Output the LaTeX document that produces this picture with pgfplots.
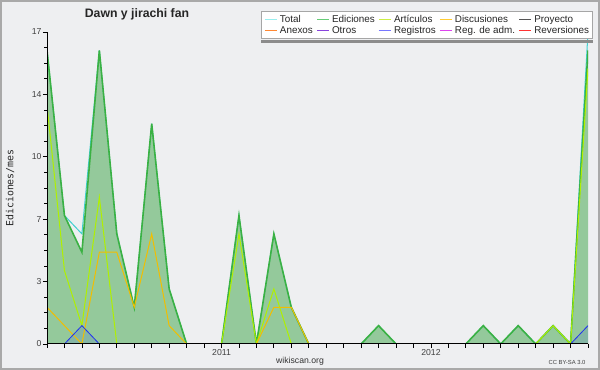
\documentclass[border=0pt]{standalone}
\usepackage{fontspec}
\setmainfont{Liberation Sans}
\newfontfamily\monof{DejaVu Sans Mono}
\usepackage{pgfplots}
\usepackage{pgfplotstable}
\pgfplotsset{compat=1.18}

\definecolor{bgc}{HTML}{EEEFF1}
\definecolor{framec}{HTML}{A9A9A9}
\definecolor{gridc}{HTML}{CDCDD0}
\definecolor{fillg}{HTML}{94C99B}
\definecolor{lineg}{HTML}{3BB143}
\definecolor{linec}{HTML}{40D0D0}
\definecolor{linea}{HTML}{B0F000}
\definecolor{lined}{HTML}{F2BE00}
\definecolor{lineb}{HTML}{2030F0}
\definecolor{lT}{HTML}{99EEEE}
\definecolor{lE}{HTML}{66CC77}
\definecolor{lA}{HTML}{CCEE44}
\definecolor{lD}{HTML}{FFCC33}
\definecolor{lP}{HTML}{555555}
\definecolor{lAn}{HTML}{FF8833}
\definecolor{lO}{HTML}{8844DD}
\definecolor{lR}{HTML}{7777FF}
\definecolor{lRA}{HTML}{DD44EE}
\definecolor{lRv}{HTML}{FF3333}

\pgfplotsset{
  layers/mylayers/.define layer set={
    axis background,axis grid,main,axis ticks,axis lines,axis tick labels,axis descriptions,axis foreground
  }{
    grid style={/pgfplots/on layer=axis grid},
    tick style={/pgfplots/on layer=axis ticks},
    axis line style={/pgfplots/on layer=axis lines},
    label style={/pgfplots/on layer=axis descriptions},
    legend style={/pgfplots/on layer=axis descriptions},
    title style={/pgfplots/on layer=axis descriptions},
    colorbar style={/pgfplots/on layer=axis descriptions},
    ticklabel style={/pgfplots/on layer=axis tick labels},
    axis background@ style={/pgfplots/on layer=axis background},
    3d box foreground style={/pgfplots/on layer=axis foreground},
  },
}

\pgfplotstableread{
i T E A D B
0 16 16 13 2 0
1 7 7 4 1 0
2 6 5 1 0 1
3 16 16 8 5 0
4 6 6 0 5 0
5 2 2 0 2 0
6 12 12 0 6 0
7 3 3 0 1 0
8 0 0 0 0 0
9 0 0 0 0 0
10 0 0 0 0 0
11 7 7 6 0 0
12 0 0 0 0 0
13 6 6 3 2 0
14 2 2 0 2 0
15 0 0 0 0 0
16 0 0 0 0 0
17 0 0 0 0 0
18 0 0 0 0 0
19 1 1 0 0 0
20 0 0 0 0 0
21 0 0 0 0 0
22 0 0 0 0 0
23 0 0 0 0 0
24 0 0 0 0 0
25 1 1 0 0 0
26 0 0 0 0 0
27 1 1 0 0 0
28 0 0 0 0 0
29 1 1 1 0 0
30 0 0 0 0 0
31 17 16 15 0 1
}\data

\begin{document}
\begin{tikzpicture}
\begin{scope}[x=0.75pt,y=0.75pt]
\fill[framec] (0,0) rectangle (600,370);
\fill[bgc] (1.7,1.7) rectangle (598.3,368.3);
\end{scope}
\begin{axis}[
  set layers=mylayers,
  at={(35.25pt,19.5pt)}, anchor=south west,
  scale only axis, width=405.75pt, height=234pt,
  xmin=0, xmax=31, ymin=0, ymax=17,
  axis x line*=bottom, axis y line*=left,
  axis line style={black, line width=0.75pt, -},
  xtick={0,...,31},
  xticklabels={,,,,,,,,,,2011,,,,,,,,,,,,2012},
  ytick={0,3.4,6.8,10.2,13.6,17},
  yticklabels={0,3,7,10,14,17},
  minor y tick num=3,
  tick align=outside,
  major tick length=3pt, minor tick length=2.2pt,
  tick style={black, line width=0.6pt},
  ymajorgrids, grid style={gridc, line width=0.75pt},
  ticklabel style={font=\fontsize{6.5}{7}\selectfont, text=black!75},
  yticklabel style={inner sep=1pt},
  xticklabel style={inner sep=0.6pt},
  /pgf/number format/assume math mode=true,
  legend columns=5,
  legend cell align=left,
  legend image code/.code={\draw[#1, line width=0.6pt] (0pt,0pt) -- (9pt,0pt);},
  legend style={
    name=leg,
    at={(axis description cs:1.0092,1.0673)}, anchor=north east,
    draw=black!35, fill=white, line width=0.6pt,
    font=\fontsize{7.4}{7.5}\selectfont, text=black!85,
    inner xsep=2pt, inner ysep=2.1pt, row sep=0pt,
    nodes={inner sep=0.6pt, text height=5.6pt, text depth=1.4pt},
    /tikz/every odd column/.append style={column sep=1.4pt},
    /tikz/every even column/.append style={column sep=2.2pt},
  },
]
\addplot[fill=fillg, draw=none, forget plot] table[x=i,y=E]{\data} \closedcycle;
\addplot[fill=lineb, fill opacity=0.12, draw=none, forget plot] table[x=i,y=B]{\data} \closedcycle;
\addplot[linec, line width=0.75pt, forget plot] table[x=i,y=T]{\data};
\addplot[lineg, line width=1.2pt, forget plot] table[x=i,y=E]{\data};
\addplot[linea, line width=0.75pt, forget plot] table[x=i,y=A]{\data};
\addplot[lined, line width=0.75pt, forget plot] table[x=i,y=D]{\data};
\addplot[lineb, line width=0.6pt, forget plot] table[x=i,y=B]{\data};

\addlegendimage{lT}\addlegendentry{Total}
\addlegendimage{lE}\addlegendentry{Ediciones}
\addlegendimage{lA}\addlegendentry{Artículos}
\addlegendimage{lD}\addlegendentry{Discusiones}
\addlegendimage{lP}\addlegendentry{Proyecto}
\addlegendimage{lAn}\addlegendentry{Anexos}
\addlegendimage{lO}\addlegendentry{Otros}
\addlegendimage{lR}\addlegendentry{Registros}
\addlegendimage{lRA}\addlegendentry{Reg. de adm.}
\addlegendimage{lRv}\addlegendentry{Reversiones}
\end{axis}
\fill[black!45] ([yshift=-0.3pt]leg.south west) rectangle ([yshift=-2.6pt]leg.south east);
\begin{scope}[x=0.75pt,y=0.75pt]
\node[font=\bfseries\fontsize{9.2}{10}\selectfont, text=black!85] at (137,356) {Dawn y jirachi fan};
\node[rotate=90, font=\monof\fontsize{7.4}{8}\selectfont, text=black!85] at (10,182) {Ediciones/mes};
\node[font=\fontsize{6.5}{7}\selectfont, text=black!80] at (300,9) {wikiscan.org};
\node[font=\fontsize{4.4}{5}\selectfont, text=black!75] at (567,8) {CC BY-SA 3.0};
\end{scope}
\end{tikzpicture}
\end{document}
